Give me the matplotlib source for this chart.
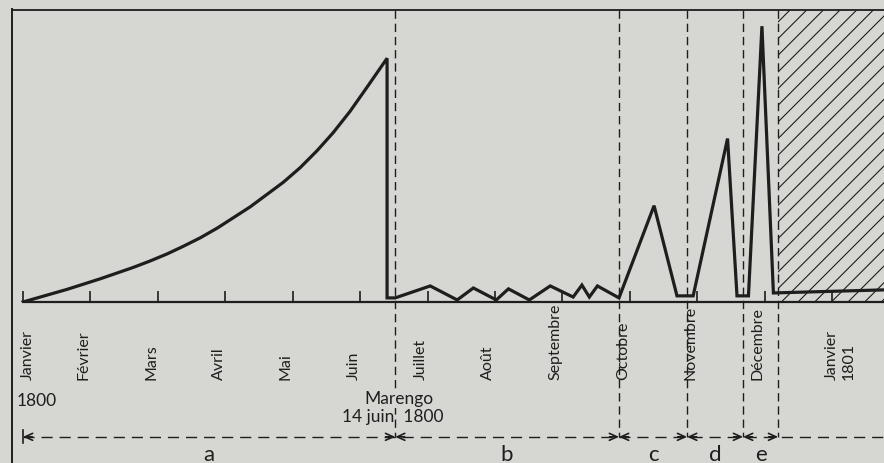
import matplotlib
matplotlib.use('Agg')
import matplotlib.pyplot as plt
from matplotlib.lines import Line2D

# months along the axis, x = months since 1 January 1800
month_labels = ['Janvier', 'Février', 'Mars', 'Avril', 'Mai', 'Juin', 'Juillet',
                'Août', 'Septembre', 'Octobre', 'Novembre', 'Décembre', 'Janvier\n1801']
month_ticks = list(range(13))

# the curve (y in arbitrary units, 0 to 100)
curve_x = [0, 0.65, 1.14, 1.63, 1.88, 2.14, 2.37, 2.63, 2.88, 3.37, 3.86, 4.11,
           4.36, 4.60, 4.85, 5.10, 5.40,
           5.40, 5.52, 6.04, 6.44, 6.68, 7.02, 7.20, 7.51, 7.82, 8.16, 8.29,
           8.40, 8.52, 8.84,
           9.36, 9.70, 9.94, 10.45, 10.59, 10.76, 10.96, 11.13, 13.0]
curve_y = [0, 4.3, 7.9, 11.8, 14.0, 16.5, 19.0, 22.0, 25.3, 32.6, 41.0, 46.0,
           51.8, 58.0, 65.3, 73.5, 83.5,
           1.4, 1.4, 5.5, 0.7, 4.8, 0.7, 4.5, 0.7, 5.5, 1.7, 5.8,
           1.7, 5.5, 1.4,
           33.0, 2.1, 2.1, 56.0, 2.1, 2.1, 94.5, 3.1, 4.3]

# periods a-e and their limits (months)
period_bounds = [0, 5.52, 8.84, 9.85, 10.68, 11.20]
period_names = ['a', 'b', 'c', 'd', 'e']

ink = '#1e1e1e'
paper = '#d6d6d2'

plt.rcParams['font.family'] = ['Lato', 'DejaVu Sans']
plt.rcParams['hatch.linewidth'] = 0.8
plt.rcParams['hatch.color'] = ink

fig = plt.figure(figsize=(8.84, 4.64), dpi=100, facecolor=paper)
ax = fig.add_axes([0.01357, 0.347, 0.9864, 0.629])
ax.set_facecolor(paper)
xmax = 12.77
ax.set_xlim(-0.163, xmax)
ax.set_ylim(0, 100)

# frame: top and baseline, left border drawn down to the bottom of the page
for side in ['left', 'right']:
    ax.spines[side].set_visible(False)
ax.spines['top'].set_linewidth(1.3)
ax.spines['top'].set_color(ink)
ax.spines['bottom'].set_linewidth(1.6)
ax.spines['bottom'].set_color(ink)
ax.spines['bottom'].set_bounds(0, xmax)
fig.add_artist(Line2D([0.0136, 0.0136], [0, 0.978], transform=fig.transFigure,
                      color=ink, lw=1.4))

ax.set_xticks(month_ticks)
ax.set_yticks([])
ax.tick_params(axis='x', direction='in', length=8, width=1.2, color=ink,
               labelbottom=False)

# hatched part at the end
ax.axvspan(period_bounds[-1], xmax + 1, facecolor='none', edgecolor=ink,
           hatch='//', lw=0)

ax.plot(curve_x, curve_y, color=ink, lw=2.3, solid_joinstyle='miter')

# dashed limits of the periods, down to the arrows
arrow_y = -46.2
for b in period_bounds[1:]:
    ax.plot([b, b], [100, arrow_y], color=ink, lw=1.0, ls=(0, (6, 3.5)),
            clip_on=False)

# month names under the axis
for i, lab in enumerate(month_labels):
    dx = -0.1
    if i == 0:
        dx = 0.07
    if i == 12:
        dx = 0.12
    ax.text(month_ticks[i] + dx, -26.5, lab, rotation=90, ha='center',
            va='bottom', fontsize=11.5, color=ink, multialignment='left',
            linespacing=1.3)
ax.text(0.21, -33.7, '1800', ha='center', va='center', fontsize=12.5, color=ink)
ax.text(5.57, -33.0, 'Marengo', ha='center', va='center', fontsize=12.5,
        color=ink, zorder=5,
        bbox=dict(facecolor=paper, edgecolor='none', pad=1))
ax.text(5.48, -39.2, '14 juin  1800', ha='center', va='center',
        fontsize=12.5, color=ink)

# arrows for the periods
ax.plot([0, xmax], [arrow_y, arrow_y], color=ink, lw=1.0, ls=(0, (8, 5)),
        clip_on=False)
ax.plot([0, 0], [arrow_y + 2.2, arrow_y - 2.2], color=ink, lw=1.2, clip_on=False)
head = dict(arrowstyle='->,head_length=0.55,head_width=0.25', color=ink, lw=1.2,
            shrinkA=0, shrinkB=0)
for k, name in enumerate(period_names):
    x0, x1 = period_bounds[k], period_bounds[k + 1]
    ax.annotate('', xy=(x0, arrow_y), xytext=(x0 + 0.14, arrow_y),
                arrowprops=head, annotation_clip=False)
    ax.annotate('', xy=(x1, arrow_y), xytext=(x1 - 0.14, arrow_y),
                arrowprops=head, annotation_clip=False)
    ax.text((x0 + x1) / 2, -54.0, name, ha='center', va='baseline',
            fontsize=16, color=ink)

fig.savefig('out.png', dpi=100, facecolor=paper)
